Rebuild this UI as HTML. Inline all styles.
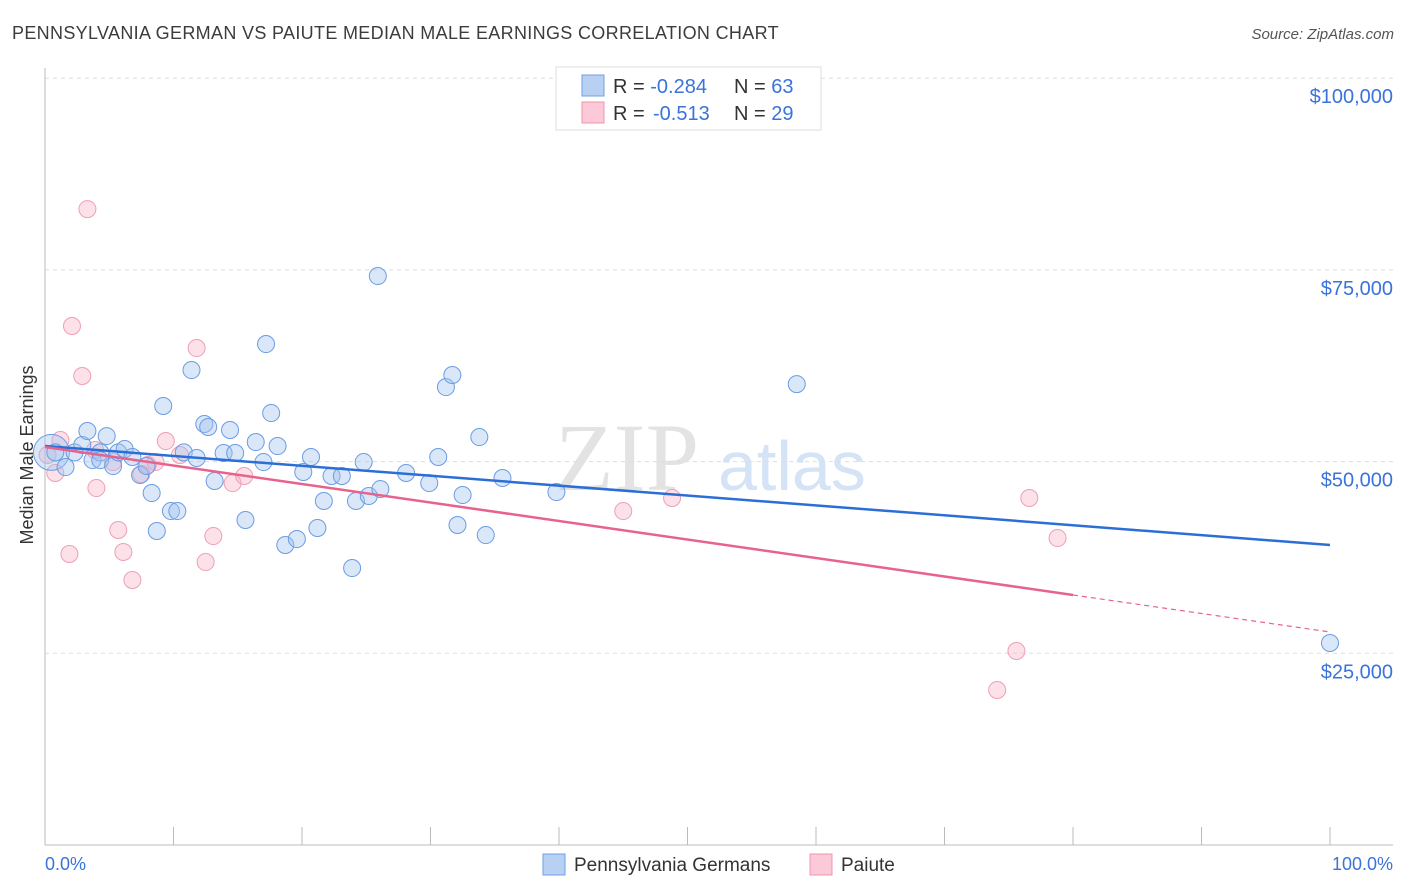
<!DOCTYPE html>
<html><head><meta charset="utf-8">
<style>
body{margin:0;background:#fff;font-family:"Liberation Sans",sans-serif;}
#wrap{position:relative;width:1406px;height:892px;overflow:hidden;}
</style></head>
<body>
<div id="wrap">
<svg id="svg" width="1406" height="892" xmlns="http://www.w3.org/2000/svg">
<text x="12" y="39" font-size="18" letter-spacing="0.33" fill="#3c3c3c">PENNSYLVANIA GERMAN VS PAIUTE MEDIAN MALE EARNINGS CORRELATION CHART</text>
<text x="1394" y="39" font-size="15" font-style="italic" fill="#555" text-anchor="end">Source: ZipAtlas.com</text>
<text x="555" y="490" font-size="96" font-family="Liberation Serif,serif" fill="#e3e3e3">ZIP</text>
<text x="718" y="490" font-size="70" fill="#d5e3f6">atlas</text>
<g id="grid"></g>
<line x1="45" y1="68" x2="45" y2="845" stroke="#bbb"/>
<line x1="45" y1="845" x2="1393" y2="845" stroke="#bbb"/>
<g id="xticks"></g>
<text x="33" y="455" font-size="18" fill="#333" text-anchor="middle" transform="rotate(-90 33 455)">Median Male Earnings</text>
<text x="45" y="870" font-size="18" fill="#3a73d9">0.0%</text>
<text x="1393" y="870" font-size="18" fill="#3a73d9" text-anchor="end">100.0%</text>
<g id="pts"></g>
<g id="lines"></g>
<g>
<rect x="556" y="67" width="265" height="63" fill="#fff" stroke="#ddd"/>
<rect x="582" y="75" width="22" height="21" fill="#b8d1f3" stroke="#6fa0e6"/>
<rect x="582" y="102" width="22" height="21" fill="#fbc9d7" stroke="#ec95ae"/>
<text x="613" y="93" font-size="20" fill="#333">R = <tspan fill="#3a73d9">-0.284</tspan><tspan x="734">N = </tspan><tspan fill="#3a73d9">63</tspan></text>
<text x="613" y="120" font-size="20" fill="#333">R = <tspan x="653" fill="#3a73d9">-0.513</tspan><tspan x="734">N = </tspan><tspan fill="#3a73d9">29</tspan></text>
</g>
<g>
<rect x="543" y="854" width="22" height="21" fill="#b8d1f3" stroke="#6fa0e6"/>
<text x="574" y="871" font-size="19" fill="#333">Pennsylvania Germans</text>
<rect x="810" y="854" width="22" height="21" fill="#fbc9d7" stroke="#ec95ae"/>
<text x="841" y="871" font-size="19" fill="#333">Paiute</text>
</g>
</svg>
</div>
<script>
const yTicks=[25000,50000,75000,100000];
const yTickLabels=["$25,000","$50,000","$75,000","$100,000"];
const xTicks=[0,10,20,30,40,50,60,70,80,90,100];
const blueX=[0.5,0.8,1.6,2.3,2.9,3.3,3.7,4.3,4.3,4.8,5.3,5.7,6.2,6.8,7.4,7.9,8.3,8.7,9.2,9.8,10.3,10.8,11.4,11.8,12.4,12.7,13.2,13.9,14.4,14.8,15.6,16.4,17.0,17.2,17.6,18.1,18.7,19.6,20.1,20.7,21.2,21.7,22.3,23.1,23.9,24.2,24.8,25.2,25.9,26.1,28.1,29.9,30.6,31.2,31.7,32.1,32.5,33.8,34.3,35.6,39.8,58.5,100];
const blueY=[51200,51200,49290,51200,52160,53990,50200,51200,50200,53330,49420,51200,51640,50600,48250,49420,45900,40950,57250,43550,43550,51200,61940,50470,54900,54510,47470,51120,54120,51120,42380,52550,49940,65330,56330,52030,39120,39900,48640,50600,41340,44860,48120,48120,36120,44860,49940,45510,74200,46420,48510,47200,50600,59720,61290,41730,45640,53200,40420,47860,46030,60110,26340];
const pinkX=[0.2,0.8,1.2,2.1,2.9,3.3,4.0,3.9,1.9,5.3,5.7,6.1,6.8,7.5,8.0,8.6,9.4,10.5,11.8,12.5,13.1,14.6,15.5,45.0,48.8,75.6,74.1,76.6,78.8];
const pinkY=[50860,48510,52810,67680,61160,82930,46550,51510,37950,49940,41080,38210,34560,48380,49550,49940,52680,50860,64810,36900,40290,47200,48120,43550,45250,25300,20210,45250,40030];
const blueTrend=[52030,39120];
const pinkTrend=[51900,27780];
const pinkSolidEnd=80;
const NS="http://www.w3.org/2000/svg";
const sx=v=>45+v*12.85;
const sy=v=>845-v/25000*191.7;
function mk(tag,attrs,parent){const e=document.createElementNS(NS,tag);for(const k in attrs)e.setAttribute(k,attrs[k]);parent.appendChild(e);return e;}
const grid=document.getElementById('grid');
yTicks.forEach((t,i)=>{
  const l=mk('line',{x1:45,x2:1393,y1:sy(t),y2:sy(t),stroke:'#ddd','stroke-dasharray':'4,4'},grid);
  
  
  const tx=mk('text',{x:1393,y:sy(t)+25,'font-size':20,fill:'#3a73d9','text-anchor':'end'},grid);
  tx.textContent=yTickLabels[i];
  
  
});
const xt=document.getElementById('xticks');
xTicks.forEach(t=>{
  const l=mk('line',{x1:sx(t),x2:sx(t),y1:827,y2:845,stroke:'#bbb'},xt);
  
  
});
const pts=document.getElementById('pts');
pinkX.forEach((x,i)=>{
  const c=mk('circle',{cx:sx(x),cy:sy(pinkY[i]),r:8.5,fill:'rgba(246,170,192,0.35)',stroke:'#ee9fb6','stroke-width':1},pts);
  
  
});
blueX.forEach((x,i)=>{
  const c=mk('circle',{cx:sx(x),cy:sy(blueY[i]),r:(i==0?18:8.5),fill:'rgba(160,196,240,0.4)',stroke:'#6b9ce3','stroke-width':1},pts);
  
  
});
const lines=document.getElementById('lines');
const bl=mk('line',{x1:sx(0),y1:sy(blueTrend[0]),x2:sx(100),y2:sy(blueTrend[1]),stroke:'#2b6fd6','stroke-width':2.5},lines);


const pm=pinkTrend[0]+(pinkTrend[1]-pinkTrend[0])*pinkSolidEnd/100;
const pl=mk('line',{x1:sx(0),y1:sy(pinkTrend[0]),x2:sx(pinkSolidEnd),y2:sy(pm),stroke:'#e8628e','stroke-width':2.5},lines);


const pd=mk('line',{x1:sx(pinkSolidEnd),y1:sy(pm),x2:sx(100),y2:sy(pinkTrend[1]),stroke:'#e8628e','stroke-width':1.2,'stroke-dasharray':'5,4'},lines);


</script>
</body></html>
